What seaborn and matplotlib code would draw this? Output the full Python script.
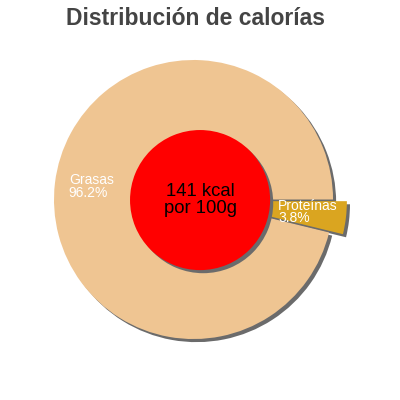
import matplotlib
matplotlib.use("Agg")
import matplotlib.pyplot as plt
import seaborn as sns
import numpy as np

# data
nutrients = ["Grasas", "Proteínas"]
percent = [96.2, 3.8]
kcal = 141
kcal_unit = "por 100g"

slice_colors = ["#EFC592", "#DAA520"]
explode = [0, 0.1]

sns.set_style("white")
plt.rcParams['font.family'] = ['Liberation Sans', 'DejaVu Sans']

fig = plt.figure(figsize=(4, 4), dpi=100)
ax = fig.add_axes([0, 0, 1, 1])

shadow = {'ox': 0.016, 'oy': -0.016, 'facecolor': '#6b6b6b',
          'edgecolor': 'none', 'alpha': 1}

labels = [f"{n}\n{p:.1f}%" for n, p in zip(nutrients, percent)]
wedges, texts = ax.pie(percent, labels=labels, colors=slice_colors,
                       explode=explode, startangle=0, shadow=shadow,
                       wedgeprops={'linewidth': 0},
                       textprops={'color': 'white', 'fontsize': 10,
                                  'linespacing': 0.85})

# put labels inside the slices, left aligned
dist = [0.9, 0.51]
for w, t, d in zip(wedges, texts, dist):
    mid = np.deg2rad((w.theta1 + w.theta2) / 2)
    cx, cy = w.center
    t.set_position((cx + d * np.cos(mid), cy + d * np.sin(mid) - 0.015))
    t.set_ha('left')
    t.set_va('center')
    t.set_zorder(5)

# red centre disc with total energy
inner_center = (0.047, -0.004)
ax.pie([kcal], colors=['red'], radius=0.502, center=inner_center,
       shadow=shadow, wedgeprops={'linewidth': 0, 'zorder': 3})
ax.text(inner_center[0], inner_center[1], f"{kcal} kcal\n{kcal_unit}",
        ha='center', va='center', fontsize=13.3, color='black',
        linespacing=1.0, zorder=6)

ax.set_xlim(-1.387, 1.480)
ax.set_ylim(-1.437, 1.430)
ax.axis('off')

fig.text(0.49, 0.9375, "Distribución de calorías", ha='center', va='baseline',
         fontsize=16.5, fontweight='bold', color='#444444')

fig.savefig("out.png", dpi=100)
